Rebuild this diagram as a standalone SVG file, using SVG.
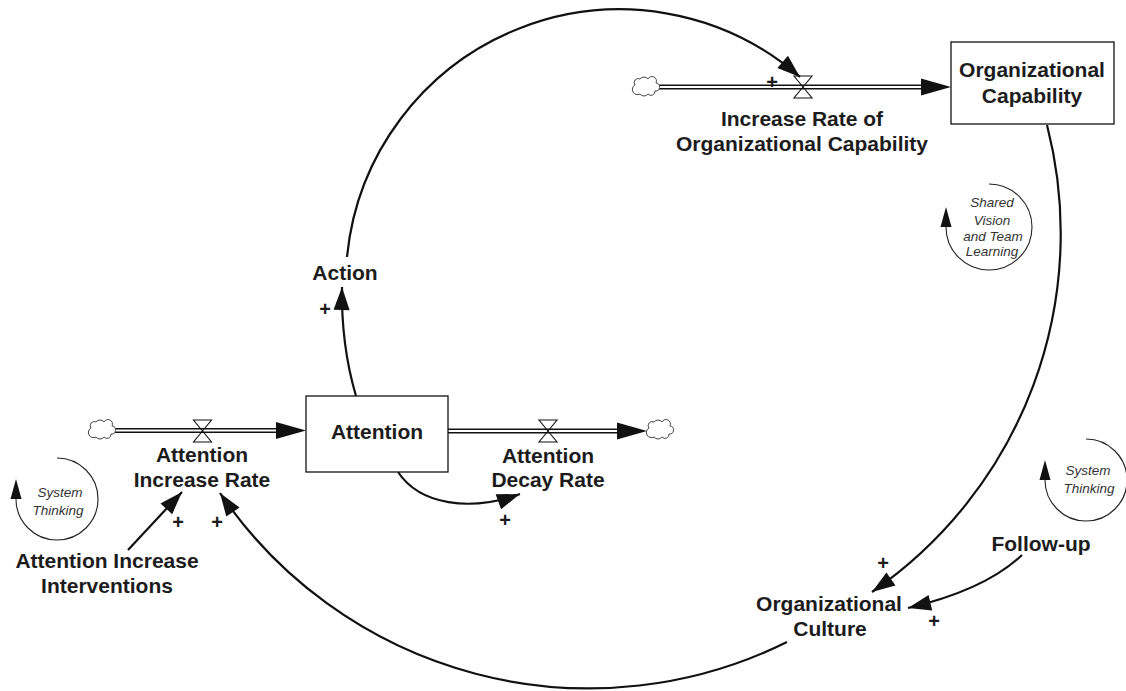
<svg xmlns="http://www.w3.org/2000/svg" xmlns:xlink="http://www.w3.org/1999/xlink" width="1126" height="691" viewBox="0 0 1126 691">
  <style>
    .lbl { font-family: "Liberation Sans", Arial, sans-serif; font-weight: bold; font-size: 21px; text-anchor: middle; fill: #1c1c1c; }
    .plus { font-family: "Liberation Sans", Arial, sans-serif; font-weight: bold; font-size: 20px; text-anchor: middle; fill: #1c1c1c; }
    .loop { font-family: "Liberation Sans", Arial, sans-serif; font-style: italic; font-size: 13.5px; text-anchor: middle; fill: #333; }
    .box { fill: #fff; stroke: #111; stroke-width: 1.3; }
    .link { fill: none; stroke: #111; stroke-width: 2.2; marker-end: url(#ah); }
    .looparc { fill: none; stroke: #222; stroke-width: 1.1; marker-end: url(#lh); }
    .pipe-out { stroke: #111; stroke-width: 5.2; fill: none; }
    .pipe-in { stroke: #fff; stroke-width: 2.2; fill: none; }
    .valve { fill: none; stroke: #111; stroke-width: 1.1; }
    .cloud { fill: #fff; stroke: #444; stroke-width: 1; }
    .head { fill: #111; }
  </style>
  <defs>
    <marker id="ah" markerUnits="userSpaceOnUse" viewBox="-24 -10 26 20" refX="0" refY="0" markerWidth="26" markerHeight="20" orient="auto">
      <path d="M0,0 L-23,-8 L-23,8 z" fill="#111"/>
    </marker>
    <marker id="lh" markerUnits="userSpaceOnUse" viewBox="-2 -8 24 16" refX="0" refY="0" markerWidth="24" markerHeight="16" orient="auto">
      <path d="M0,-5.5 L20,0 L0,5.5 z" fill="#111"/>
    </marker>
    <path id="cloud" d="M-10,-3 a4,4 0 0 1 5,-6 a5,5 0 0 1 8,0 a4,4 0 0 1 8,4 a4,4 0 0 1 -1,8 a4,4 0 0 1 -7,3 a5,5 0 0 1 -8,0 a4,4 0 0 1 -5,-9 z"/>
    <path id="valve" d="M-9,-11 L9,-11 L0,0 Z M-9,11 L9,11 L0,0 Z"/>
  </defs>

  <!-- material flows: pipes, valves, sources and sinks -->
  <g id="flows">
    <g id="flow-attention-increase">
      <line class="pipe-out" x1="112" y1="430.5" x2="278" y2="430.5"/>
      <line class="pipe-in" x1="114" y1="430.5" x2="278" y2="430.5"/>
      <polygon class="head" points="306,430.5 276,422 276,439"/>
      <use href="#cloud" class="cloud" x="101" y="431"/>
      <use href="#valve" class="valve" x="202.5" y="431"/>
    </g>
    <g id="flow-attention-decay">
      <line class="pipe-out" x1="448" y1="431" x2="619" y2="431"/>
      <line class="pipe-in" x1="448" y1="431" x2="619" y2="431"/>
      <polygon class="head" points="647,431 617,422.5 617,439.5"/>
      <use href="#cloud" class="cloud" x="659" y="431"/>
      <use href="#valve" class="valve" x="548" y="431"/>
    </g>
    <g id="flow-capability-increase">
      <line class="pipe-out" x1="656" y1="87" x2="923" y2="87"/>
      <line class="pipe-in" x1="658" y1="87" x2="923" y2="87"/>
      <polygon class="head" points="951,87 921,78.5 921,95.5"/>
      <use href="#cloud" class="cloud" x="645" y="88"/>
      <use href="#valve" class="valve" x="803" y="87"/>
    </g>
  </g>

  <!-- causal links -->
  <g id="connectors">
    <path class="link" d="M356,396 Q341,345 342,287"/>
    <path class="link" d="M347,257 A274,274 0 0 1 800,77"/>
    <path class="link" d="M398,472 C420,505 470,512 520,494"/>
    <path class="link" d="M128,550 L182,492"/>
    <path class="link" d="M787,642 A446,446 0 0 1 220,493"/>
    <path class="link" d="M1047,125 A435,435 0 0 1 872,592"/>
    <path class="link" d="M1022,555 Q985,590 908,608"/>
  </g>

  <!-- polarity signs -->
  <g id="polarities">
    <text class="plus" x="772" y="89">+</text>
    <text class="plus" x="325" y="316">+</text>
    <text class="plus" x="505" y="527">+</text>
    <text class="plus" x="178" y="529">+</text>
    <text class="plus" x="217" y="529">+</text>
    <text class="plus" x="883" y="570">+</text>
    <text class="plus" x="934" y="628">+</text>
  </g>

  <!-- stocks -->
  <g id="stock-organizational-capability">
    <rect class="box" x="951" y="42" width="163" height="82"/>
    <text class="lbl" x="1032" y="77">Organizational</text>
    <text class="lbl" x="1032" y="103">Capability</text>
  </g>
  <g id="stock-attention">
    <rect class="box" x="306" y="396" width="142" height="76"/>
    <text class="lbl" x="377" y="439">Attention</text>
  </g>

  <!-- rates and auxiliaries -->
  <g id="rate-increase-capability">
    <text class="lbl" x="802" y="126">Increase Rate of</text>
    <text class="lbl" x="802" y="151">Organizational Capability</text>
  </g>
  <g id="aux-action">
    <text class="lbl" x="345" y="280">Action</text>
  </g>
  <g id="rate-attention-increase">
    <text class="lbl" x="202" y="462">Attention</text>
    <text class="lbl" x="202" y="487">Increase Rate</text>
  </g>
  <g id="rate-attention-decay">
    <text class="lbl" x="548" y="463">Attention</text>
    <text class="lbl" x="548" y="487">Decay Rate</text>
  </g>
  <g id="aux-interventions">
    <text class="lbl" x="107" y="568">Attention Increase</text>
    <text class="lbl" x="107" y="593">Interventions</text>
  </g>
  <g id="aux-follow-up">
    <text class="lbl" x="1041" y="551">Follow-up</text>
  </g>
  <g id="aux-organizational-culture">
    <text class="lbl" x="829" y="611">Organizational</text>
    <text class="lbl" x="830" y="636">Culture</text>
  </g>

  <!-- loop identifiers -->
  <g id="loop-system-thinking-left">
    <path class="looparc" d="M57,458 A41,41 0 1 1 16,499"/>
    <text class="loop" x="60" y="497">System</text>
    <text class="loop" x="58" y="515">Thinking</text>
  </g>
  <g id="loop-shared-vision">
    <path class="looparc" d="M989,184 A43,43 0 1 1 946,227"/>
    <text class="loop" x="992" y="207">Shared</text>
    <text class="loop" x="992" y="225">Vision</text>
    <text class="loop" x="993" y="241">and Team</text>
    <text class="loop" x="992" y="256">Learning</text>
  </g>
  <g id="loop-system-thinking-right">
    <path class="looparc" d="M1086,439 A41,41 0 1 1 1045,480"/>
    <text class="loop" x="1088" y="475">System</text>
    <text class="loop" x="1089" y="493">Thinking</text>
  </g>
</svg>
